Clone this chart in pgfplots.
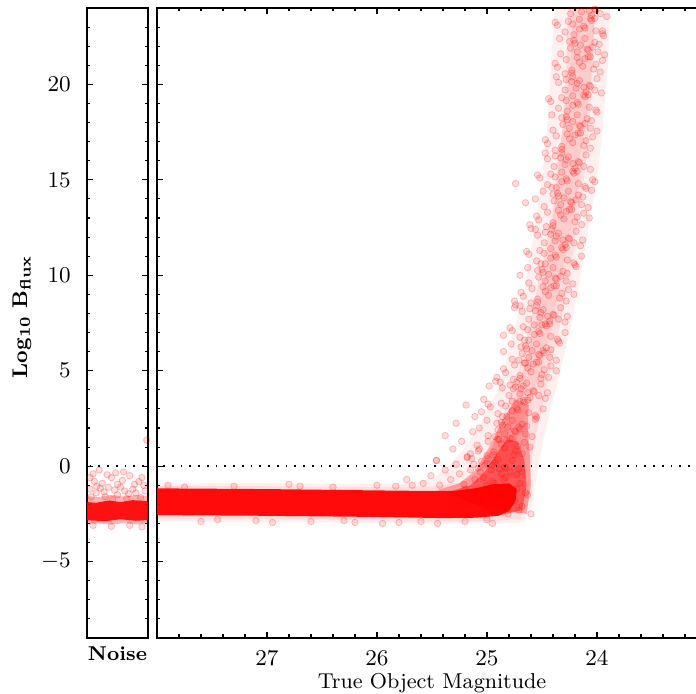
\documentclass[border=0pt]{standalone}
\usepackage{pgfplots}
\pgfplotsset{compat=1.18}
\definecolor{ptred}{RGB}{255,0,0}
\pgfplotsset{
  panel/.style={
    scale only axis, height=252pt, ymin=-9, ymax=24,
    axis line style={line width=0.8pt},
    tick style={line width=0.45pt, black},
    major tick length=2.4pt, minor tick length=1.4pt,
    tick align=inside,
    ytick={-5,0,5,10,15,20},
    minor ytick={-9,-8,...,24},
    tick label style={font=\fontsize{8.7}{10}\selectfont},
    clip=true,
  },
  pts/.style={only marks, mark=*, mark size=1.3pt,
    mark options={fill=ptred, draw=ptred, fill opacity=0.13, draw opacity=0.25, line width=0.3pt}},
  zeroline/.style={black, line width=0.7pt, dash pattern=on 0.7pt off 2.8pt},
}
\begin{document}
\begin{tikzpicture}
\useasboundingbox (-34.8pt,-22.4pt) rectangle (243.6pt,255.2pt);
% ---------------- Noise panel ----------------
\begin{axis}[panel, at={(0pt,0pt)}, anchor=south west, width=24.4pt,
  xmin=0, xmax=1, xtick=\empty,
  yticklabel style={xshift=-3pt},
  xlabel={\fontsize{8}{10}\selectfont\bfseries Noise},
  xlabel style={at={(axis description cs:0.5,0)}, anchor=base, yshift=-9.2pt},
  ylabel={\fontsize{8.5}{10}\selectfont\textbf{Log}$_{\mathbf{10}}$ \textbf{B}$_{\mathbf{flux}}$},
  ylabel style={at={(axis description cs:-1.066,0.51)}, anchor=center},
]
\addplot[draw=none, fill=ptred, fill opacity=0.3] coordinates {
 (-0.1,-1.55) (0.2,-1.62) (0.4,-1.5) (0.6,-1.6) (0.8,-1.52) (1.1,-1.58)
 (1.1,-3.0) (0.8,-3.05) (0.6,-2.98) (0.4,-3.06) (0.2,-3.0) (-0.1,-3.03)} --cycle;
\addplot[draw=none, fill=ptred, fill opacity=0.9] coordinates {
 (-0.1,-1.85) (0.15,-1.92) (0.35,-1.8) (0.55,-1.88) (0.75,-1.78) (1.1,-1.86)
 (1.1,-2.8) (0.8,-2.86) (0.55,-2.78) (0.3,-2.88) (-0.1,-2.82)} --cycle;
\addplot[pts] coordinates {
 (0.1,-0.4) (0.25,-0.9) (0.4,-0.6) (0.55,-1.1) (0.7,-0.5) (0.85,-0.8)
 (0.95,-1.3) (0.15,-1.4) (0.3,-1.6) (0.5,-1.5) (0.65,-1.7) (0.8,-1.4)
 (0.05,-1.2) (0.2,-0.2) (0.45,-1.25) (0.6,-0.3) (0.75,-1.2) (0.9,-0.6)
 (0.35,-1.1) (0.12,-0.8) (0.98,1.36) (0.58,-0.75) (0.28,-1.35) (0.88,-1.65)
 (0.42,-1.75) (0.07,-1.6) (0.68,-1.45) (0.93,-1.0) (0.22,-1.15) (0.5,-0.95)
 (0.33,-0.45) (0.78,-0.95) (0.16,-1.05) (0.62,-1.3) (0.05,-0.6) (0.47,-0.35)
 (0.1,-3.1) (0.4,-3.15) (0.7,-3.1) (0.9,-3.18)
};
\addplot[zeroline] coordinates {(-0.1,0) (1.1,0)};
\end{axis}
% ---------------- Main panel ----------------
\begin{axis}[panel, at={(28pt,0pt)}, anchor=south west, width=220pt,
  xmin=23, xmax=28, x dir=reverse,
  xtick={24,25,26,27},
  minor xtick={23.2,23.4,23.6,23.8,24.2,24.4,24.6,24.8,25.2,25.4,25.6,25.8,26.2,26.4,26.6,26.8,27.2,27.4,27.6,27.8},
  yticklabels={},
  xticklabel style={yshift=-1.5pt},
  xlabel={\fontsize{8.6}{10}\selectfont True Object Magnitude},
  xlabel style={at={(axis description cs:0.5,0)}, anchor=base, yshift=-20.4pt},
]
% wide halo
\addplot[draw=none, fill=ptred, fill opacity=0.06] coordinates {
 (24.66,-2.95) (24.58,-2) (24.55,-0.5) (24.5,1) (24.42,3) (24.33,5) (24.25,7)
 (24.18,9) (24.12,11) (24.06,13) (24.0,15) (23.96,17) (23.93,19) (23.9,21) (23.88,24.5)
 (24.38,24.5) (24.42,21) (24.45,18) (24.5,15) (24.58,12) (24.67,9) (24.78,6.5)
 (24.9,4) (25.05,2.3) (25.2,1.0) (25.35,0) (25.5,-0.7) (25.8,-0.95) (27,-0.9) (28.3,-0.9)
 (28.3,-2.9) (27,-2.92) (26,-2.97) (25.2,-3.0) (24.85,-3.0)} --cycle;
% mid
\addplot[draw=none, fill=ptred, fill opacity=0.08] coordinates {
 (24.7,-2.75) (24.63,-2.0) (24.61,-1) (24.6,0) (24.56,1.5) (24.5,3) (24.43,5)
 (24.35,7) (24.28,9) (24.22,11) (24.17,13) (24.12,15) (24.08,17) (24.06,19) (24.04,21) (24.02,24.5)
 (24.26,24.5) (24.28,21) (24.31,18) (24.36,15) (24.42,12) (24.5,9) (24.6,6.5) (24.72,4)
 (24.85,2.2) (24.98,0.8) (25.08,-0.2) (25.2,-0.8) (25.45,-1.05) (26,-1.1) (27,-1.05) (28.3,-1.0)
 (28.3,-2.75) (27,-2.78) (26,-2.83) (25.2,-2.88) (24.9,-2.85)} --cycle;
% narrow rising core
\addplot[draw=none, fill=ptred, fill opacity=0.08] coordinates {
 (24.83,0) (24.75,1) (24.69,2) (24.63,3) (24.57,4) (24.51,5) (24.47,6) (24.43,7) (24.39,8)
 (24.32,10) (24.25,12) (24.18,14) (24.16,16) (24.1,18) (24.06,20) (24.03,22) (24.01,24.5)
 (24.21,24.5) (24.23,22) (24.26,20) (24.3,18) (24.36,16) (24.38,14) (24.45,12) (24.52,10)
 (24.59,8) (24.63,7) (24.67,6) (24.71,5) (24.77,4) (24.83,3) (24.89,2) (24.95,1) (25.03,0)} --cycle;
% lower dense part of the rise
\addplot[draw=none, fill=ptred, fill opacity=0.3] coordinates {
 (24.64,-2.5) (24.6,-1) (24.61,0.5) (24.63,2) (24.62,3.2) (24.74,3.5) (24.86,2.4)
 (24.98,1.0) (25.1,-0.2) (25.25,-0.9) (25.45,-1.25) (25.3,-1.6) (25.0,-2.2)} --cycle;
\addplot[draw=none, fill=ptred, fill opacity=0.45] coordinates {
 (24.68,-2.3) (24.64,-1) (24.66,0.3) (24.72,1.3) (24.82,1.4) (24.92,0.6) (25.02,-0.3)
 (25.15,-1.0) (25.35,-1.35) (24.9,-2.6)} --cycle;
% core band
\addplot[draw=none, fill=ptred, fill opacity=0.95] coordinates {
 (28.3,-2.55) (27,-2.6) (26,-2.66) (25.4,-2.72) (25.1,-2.7) (24.9,-2.6) (24.8,-2.35)
 (24.74,-1.8) (24.73,-1.2) (24.8,-0.9) (24.95,-0.95) (25.1,-1.15) (25.3,-1.3)
 (25.5,-1.3) (26,-1.27) (27,-1.2) (28.3,-1.15)} --cycle;
% scattered points (first set)
\addplot[pts] coordinates {
 (25.06,-0.3) (24.93,0.2) (24.83,-0.1) (24.99,0.4) (24.87,-0.4) (25.12,0.1) (24.77,0.3) (24.96,-0.2) (25.18,0.45) (24.71,-0.15) (25.02,0.05) (24.90,0.35)
 (24.82,1.35) (24.94,0.75) (24.72,1.05) (25.00,0.55) (24.87,1.15) (24.77,1.45) (25.07,0.9) (24.66,1.25) (25.15,0.65) (24.61,1.0) (24.90,1.4) (24.75,0.6)
 (24.84,1.7) (24.68,2.2) (24.90,1.9) (24.77,2.4) (24.99,1.6) (24.64,2.1) (24.87,2.3) (24.74,1.8) (25.07,2.0) (24.56,2.45) (24.93,1.55) (24.71,2.05)
 (24.66,3.35) (24.90,2.75) (24.73,3.05) (24.55,2.55) (24.83,3.15) (24.63,3.45) (24.77,2.9) (24.99,3.25) (24.49,3.0) (24.86,2.6) (24.70,3.4) (25.05,2.85)
 (24.80,3.7) (24.67,4.2) (24.57,3.9) (24.73,4.4) (24.61,3.6) (24.86,4.1) (24.51,4.3) (24.70,3.8) (24.92,4.45) (24.45,3.85) (24.76,4.05) (24.64,4.35)
 (24.58,5.35) (24.70,4.75) (24.48,5.05) (24.76,4.55) (24.63,5.15) (24.53,5.45) (24.83,4.9) (24.42,5.25) (24.91,4.65) (24.37,5.0) (24.66,5.4) (24.51,4.6)
 (24.62,5.7) (24.46,6.2) (24.68,5.9) (24.55,6.4) (24.77,5.6) (24.42,6.1) (24.65,6.3) (24.52,5.8) (24.85,6.0) (24.34,6.45) (24.71,5.55) (24.49,6.05)
 (24.46,7.35) (24.70,6.75) (24.53,7.05) (24.35,6.55) (24.63,7.15) (24.43,7.45) (24.57,6.9) (24.79,7.25) (24.29,7.0) (24.66,6.6) (24.50,7.4) (24.85,6.85)
 (24.62,7.7) (24.49,8.2) (24.39,7.9) (24.55,8.4) (24.43,7.6) (24.68,8.1) (24.33,8.3) (24.52,7.8) (24.74,8.45) (24.27,7.85)
 (24.42,9.35) (24.54,8.75) (24.32,9.05) (24.60,8.55) (24.47,9.15) (24.37,9.45) (24.67,8.9) (24.26,9.25) (24.75,8.65) (24.21,9.0)
 (24.47,9.7) (24.31,10.2) (24.53,9.9) (24.40,10.4) (24.62,9.6) (24.27,10.1) (24.50,10.3) (24.37,9.8) (24.70,10.0) (24.19,10.45)
 (24.31,11.35) (24.55,10.75) (24.38,11.05) (24.20,10.55) (24.48,11.15) (24.28,11.45) (24.42,10.9) (24.64,11.25) (24.14,11.0) (24.51,10.6)
 (24.48,11.7) (24.35,12.2) (24.25,11.9) (24.41,12.4) (24.29,11.6) (24.54,12.1) (24.19,12.3) (24.38,11.8) (24.60,12.45) (24.13,11.85)
 (24.28,13.35) (24.40,12.75) (24.18,13.05) (24.46,12.55) (24.33,13.15) (24.23,13.45) (24.53,12.9) (24.12,13.25) (24.61,12.65) (24.07,13.0)
 (24.33,13.7) (24.17,14.2) (24.39,13.9) (24.26,14.4) (24.48,13.6) (24.13,14.1) (24.36,14.3) (24.23,13.8) (24.56,14.0) (24.05,14.45)
 (24.21,15.35) (24.45,14.75) (24.28,15.05) (24.10,14.55) (24.38,15.15) (24.18,15.45) (24.32,14.9) (24.54,15.25) (24.04,15.0) (24.41,14.6)
 (24.39,15.7) (24.26,16.2) (24.16,15.9) (24.32,16.4) (24.20,15.6) (24.45,16.1) (24.10,16.3) (24.29,15.8)
 (24.20,17.35) (24.32,16.75) (24.10,17.05) (24.38,16.55) (24.25,17.15) (24.15,17.45) (24.45,16.9) (24.04,17.25)
 (24.25,17.7) (24.09,18.2) (24.31,17.9) (24.18,18.4) (24.40,17.6) (24.05,18.1) (24.28,18.3) (24.15,17.8)
 (24.11,19.35) (24.35,18.75) (24.18,19.05) (24.00,18.55) (24.28,19.15) (24.08,19.45) (24.22,18.9) (24.44,19.25)
 (24.29,19.7) (24.16,20.2) (24.06,19.9) (24.22,20.4) (24.10,19.6) (24.35,20.1) (24.00,20.3) (24.19,19.8)
 (24.11,21.35) (24.23,20.75) (24.01,21.05) (24.29,20.55) (24.16,21.15) (24.06,21.45) (24.36,20.9) (23.95,21.25)
 (24.18,21.7) (24.02,22.2) (24.24,21.9) (24.11,22.4) (24.33,21.6) (23.98,22.1) (24.21,22.3) (24.08,21.8)
 (24.05,23.35) (24.29,22.75) (24.12,23.05) (23.94,22.55) (24.22,23.15) (24.02,23.45) (24.16,22.9) (24.38,23.25)
 (24.24,23.7) (24.11,24.2) (24.01,23.9) (24.17,24.4) (24.05,23.6) (24.30,24.1) (23.95,24.3) (24.14,23.8)
 (24.74,14.8) (24.65,13.8) (24.75,8.3) (24.02,14.9) (23.95,22.8)
 (25.58,-0.9) (25.51,-0.5) (25.43,-1.0) (25.38,-0.2) (25.33,-0.7) (25.28,0.1) (25.25,-0.4) (25.21,-0.95)
 (25.18,0.5) (25.15,-0.2) (25.11,-0.7) (25.08,0.8) (25.68,-1.0) (25.73,-0.7) (25.83,-1.05) (25.46,0.3)
 (25.31,0.9) (25.23,1.3) (25.13,1.8) (25.11,2.6) (25.03,3.5) (24.98,4.2) (25.19,3.2) (25.08,-0.1)
 (25.03,-0.6) (24.93,-0.9) (24.83,-0.6) (24.73,-1.2) (24.68,-0.3) (24.75,-1.8) (24.71,-2.3) (24.63,-1.5)
 (24.81,-2.5) (24.88,-1.5) (24.98,-1.4) (25.05,-1.8) (25.28,2.25) (25.38,1.6) (25.46,0.3)
 (27.9,-1.0) (27.6,-2.9) (27.3,-1.05) (27.1,-2.85) (26.8,-0.95) (26.6,-2.9) (26.4,-1.1) (26.2,-2.95)
 (26.0,-1.0) (25.8,-2.95) (27.75,-1.1) (27.45,-2.8) (26.95,-2.95) (26.7,-1.05) (26.3,-2.85) (25.95,-3.0)
 (25.6,-2.9) (25.45,-3.0) (25.2,-2.9) (25.0,-2.8) (24.95,-3.0)
};
% scattered points (second set)
\addplot[pts] coordinates {
 (24.95,0.05) (24.79,-0.3) (25.14,0.4) (24.89,-0.15) (25.05,0.25) (24.73,-0.45) (25.00,0.15) (24.84,-0.05)
 (24.74,0.8) (24.89,1.4) (24.68,0.65) (25.09,1.1) (24.84,0.95) (24.99,1.3) (24.79,1.45) (24.94,0.6)
 (24.81,2.05) (24.65,1.7) (25.00,2.4) (24.75,1.85) (24.91,2.25) (24.59,1.55) (24.86,2.15) (24.70,1.95)
 (24.62,2.8) (24.77,3.4) (24.56,2.65) (24.97,3.1) (24.72,2.95) (24.87,3.3) (24.67,3.45) (24.82,2.6)
 (24.69,4.05) (24.53,3.7) (24.88,4.4) (24.63,3.85) (24.79,4.25) (24.47,3.55) (24.74,4.15) (24.58,3.95)
 (24.50,4.8) (24.65,5.4) (24.44,4.65) (24.85,5.1) (24.60,4.95) (24.75,5.3) (24.55,5.45) (24.70,4.6)
 (24.59,6.05) (24.43,5.7) (24.78,6.4) (24.53,5.85) (24.69,6.25) (24.37,5.55) (24.64,6.15) (24.48,5.95)
 (24.42,6.8) (24.57,7.4) (24.36,6.65) (24.77,7.1) (24.52,6.95) (24.67,7.3) (24.47,7.45) (24.62,6.6)
 (24.51,8.05) (24.35,7.7) (24.70,8.4) (24.45,7.85) (24.61,8.25) (24.29,7.55) (24.56,8.15) (24.40,7.95)
 (24.34,8.8) (24.49,9.4) (24.28,8.65) (24.69,9.1) (24.44,8.95) (24.59,9.3) (24.39,9.45) (24.54,8.6)
 (24.44,10.05) (24.28,9.7) (24.63,10.4) (24.38,9.85) (24.54,10.25) (24.22,9.55) (24.49,10.15) (24.33,9.95)
 (24.27,10.8) (24.42,11.4) (24.21,10.65) (24.62,11.1) (24.37,10.95) (24.52,11.3) (24.32,11.45) (24.47,10.6)
 (24.37,12.05) (24.21,11.7) (24.56,12.4) (24.31,11.85) (24.47,12.25) (24.15,11.55) (24.42,12.15) (24.26,11.95)
 (24.20,12.8) (24.35,13.4) (24.14,12.65) (24.55,13.1) (24.30,12.95) (24.45,13.3) (24.25,13.45) (24.40,12.6)
 (24.30,14.05) (24.14,13.7) (24.49,14.4) (24.24,13.85) (24.40,14.25) (24.08,13.55) (24.35,14.15) (24.19,13.95)
 (24.17,14.8) (24.32,15.4) (24.11,14.65) (24.52,15.1) (24.27,14.95) (24.42,15.3) (24.22,15.45) (24.37,14.6)
 (24.28,16.05) (24.12,15.7) (24.47,16.4) (24.22,15.85) (24.38,16.25) (24.06,15.55) (24.33,16.15) (24.17,15.95)
 (24.12,16.8) (24.27,17.4) (24.06,16.65) (24.47,17.1) (24.22,16.95) (24.37,17.3) (24.17,17.45) (24.32,16.6)
 (24.22,18.05) (24.06,17.7) (24.41,18.4) (24.16,17.85) (24.32,18.25) (24.00,17.55) (24.27,18.15) (24.11,17.95)
 (24.07,18.8) (24.22,19.4) (24.01,18.65) (24.42,19.1) (24.17,18.95) (24.32,19.3) (24.12,19.45) (24.27,18.6)
 (24.18,20.05) (24.02,19.7) (24.37,20.4) (24.12,19.85) (24.28,20.25) (23.96,19.55) (24.23,20.15) (24.07,19.95)
 (24.03,20.8) (24.18,21.4) (23.97,20.65) (24.38,21.1) (24.13,20.95) (24.28,21.3) (24.08,21.45) (24.23,20.6)
 (24.15,22.05) (23.99,21.7) (24.34,22.4) (24.09,21.85) (24.25,22.25) (23.93,21.55) (24.20,22.15) (24.04,21.95)
 (24.01,22.8) (24.16,23.4) (23.95,22.65) (24.36,23.1) (24.11,22.95) (24.26,23.3) (24.06,23.45) (24.21,22.6)
 (24.13,24.05) (23.97,23.7) (24.32,24.4) (24.07,23.85) (24.23,24.25) (23.91,23.55) (24.18,24.15) (24.02,23.95)
 (24.95,-0.8) (24.8,-1.1) (25.1,-1.3) (24.7,-0.9) (25.0,-1.0) (24.85,-0.7) (24.65,-1.4) (25.2,-1.2)
 (24.9,-1.6) (24.78,-1.9) (24.68,-2.1) (24.6,-2.5)
};
\addplot[zeroline] coordinates {(28.5,0) (22.5,0)};
\end{axis}
\end{tikzpicture}
\end{document}
